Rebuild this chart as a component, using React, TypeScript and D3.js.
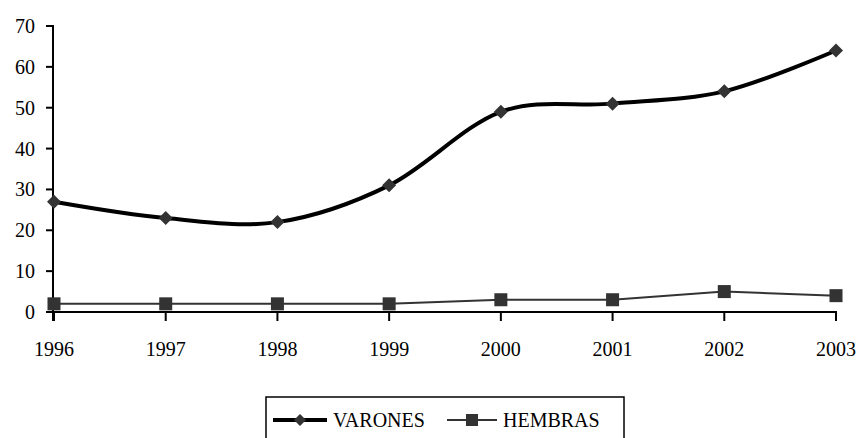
import React from "react";
import * as d3 from "d3";

const years = ["1996", "1997", "1998", "1999", "2000", "2001", "2002", "2003"];
const varones = [27, 23, 22, 31, 49, 51, 54, 64];
const hembras = [2, 2, 2, 2, 3, 3, 5, 4];
const yTicks = [0, 10, 20, 30, 40, 50, 60, 70];

export default function App() {
  const width = 860;
  const height = 438;
  const left = 54;
  const right = 836;
  const top = 26;
  const bottom = 312;

  const x = d3.scalePoint<string>().domain(years).range([left, right]);
  const y = d3.scaleLinear().domain([0, 70]).range([bottom, top]);

  const smooth = d3
    .line<number>()
    .x((_, i) => x(years[i])!)
    .y((d) => y(d))
    .curve(d3.curveCatmullRom.alpha(0));
  const straight = d3
    .line<number>()
    .x((_, i) => x(years[i])!)
    .y((d) => y(d));

  const diamond = (cx: number, cy: number, r = 7) =>
    `M${cx},${cy - r}L${cx + r},${cy}L${cx},${cy + r}L${cx - r},${cy}Z`;

  return (
    <svg
      width={width}
      height={height}
      style={{
        position: "absolute",
        left: 0,
        top: 0,
        background: "#fff",
        fontFamily: '"Liberation Serif", "DejaVu Serif", "Times New Roman", serif',
      }}
    >
      {/* y axis */}
      <line x1={left - 1} x2={left - 1} y1={top} y2={bottom + 9} stroke="#000" strokeWidth={2} />
      {yTicks.map((t) => (
        <g key={t}>
          <line x1={left - 8} x2={left} y1={y(t)} y2={y(t)} stroke="#000" strokeWidth={2} />
          <text x={left - 19} y={y(t) + 7} textAnchor="end" fontSize={20} fill="#000">
            {t}
          </text>
        </g>
      ))}
      {/* x axis */}
      <line x1={left - 8} x2={right + 1} y1={bottom} y2={bottom} stroke="#000" strokeWidth={2} />
      {years.map((yr) => (
        <g key={yr}>
          <line x1={x(yr)} x2={x(yr)} y1={bottom} y2={bottom + 9} stroke="#000" strokeWidth={2} />
          <text x={x(yr)} y={356} textAnchor="middle" fontSize={20} fill="#000">
            {yr}
          </text>
        </g>
      ))}

      {/* HEMBRAS */}
      <path d={straight(hembras)!} fill="none" stroke="#333" strokeWidth={2} />
      {hembras.map((v, i) => (
        <rect key={i} x={x(years[i])! - 6.5} y={y(v) - 6.5} width={13} height={13} fill="#333" />
      ))}

      {/* VARONES */}
      <path d={smooth(varones)!} fill="none" stroke="#000" strokeWidth={4} />
      {varones.map((v, i) => (
        <path key={i} d={diamond(x(years[i])!, y(v))} fill="#333" />
      ))}

      {/* legend */}
      <rect x={266} y={397} width={358} height={60} fill="#fff" stroke="#000" strokeWidth={1.5} />
      <line x1={273} x2={327} y1={420} y2={420} stroke="#000" strokeWidth={4} />
      <path d={diamond(300, 420, 6)} fill="#333" />
      <text x={333} y={427} fontSize={20} fill="#000">VARONES</text>
      <line x1={447} x2={497} y1={420} y2={420} stroke="#333" strokeWidth={2} />
      <rect x={466} y={414} width={12} height={12} fill="#333" />
      <text x={503} y={427} fontSize={20} fill="#000">HEMBRAS</text>
    </svg>
  );
}
